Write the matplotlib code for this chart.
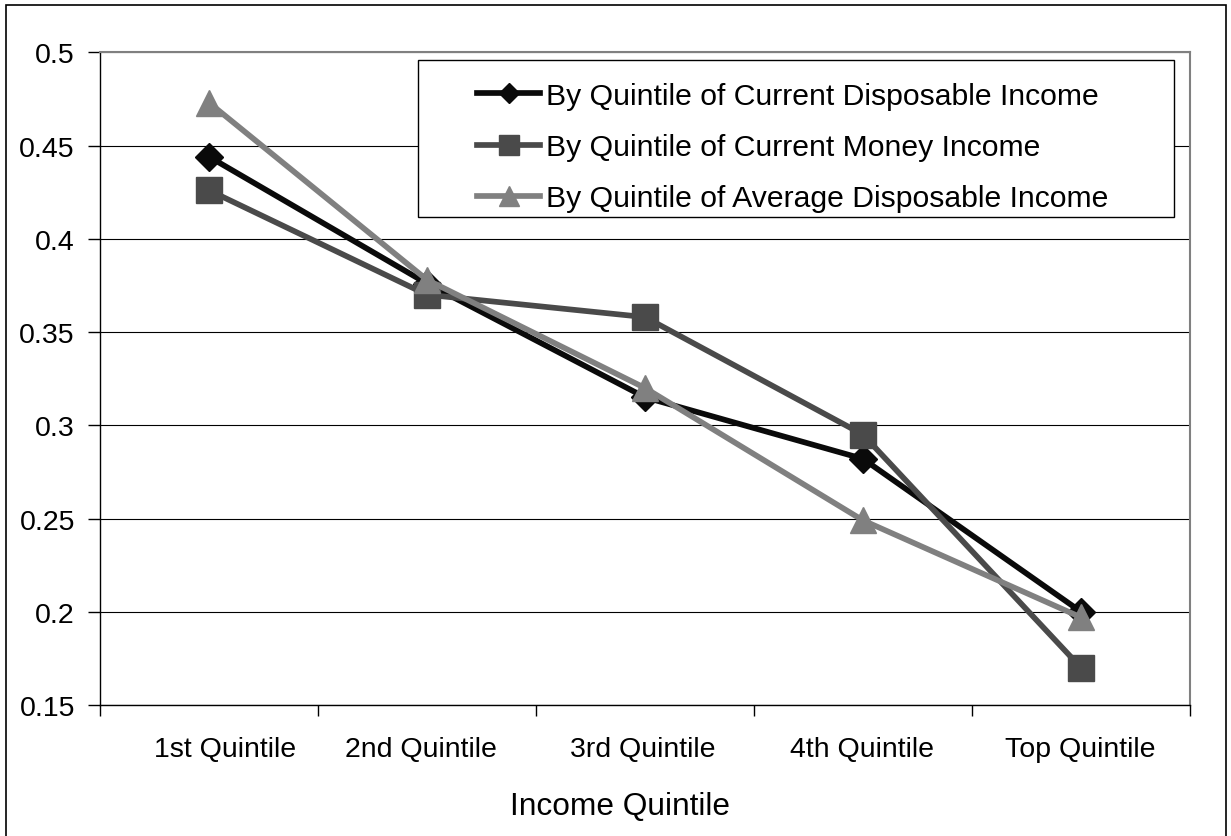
import numpy as np
import matplotlib.pyplot as plt
from matplotlib.patches import Rectangle
from matplotlib.transforms import ScaledTranslation

# values
quintiles = ['1st Quintile', '2nd Quintile', '3rd Quintile', '4th Quintile', 'Top Quintile']
current_disposable = [0.444, 0.376, 0.315, 0.282, 0.200]
current_money = [0.426, 0.370, 0.358, 0.295, 0.170]
average_disposable = [0.473, 0.378, 0.320, 0.249, 0.197]
series_labels = ['By Quintile of Current Disposable Income',
                 'By Quintile of Current Money Income',
                 'By Quintile of Average Disposable Income']
y_ticks = [0.15, 0.2, 0.25, 0.3, 0.35, 0.4, 0.45, 0.5]

plt.rcParams['font.family'] = ['Liberation Sans', 'DejaVu Sans']

W, H = 1231, 837
fig = plt.figure(figsize=(W / 100, H / 100), dpi=100)
ax = fig.add_axes([100 / W, 1 - 706 / H, 1090 / W, (706 - 53.3) / H])

x = np.arange(len(quintiles))
ax.plot(x, current_disposable, color='#0a0a0a', lw=4.1, marker='D', ms=14,
        mec='#0a0a0a', label=series_labels[0], zorder=3)
ax.plot(x, current_money, color='#4a4a4a', lw=4.1, marker='s', ms=18.5,
        mec='#4a4a4a', label=series_labels[1], zorder=3)
ax.plot(x, average_disposable, color='#808080', lw=4.1, marker='^', ms=19,
        mec='#808080', label=series_labels[2], zorder=3)

ax.set_xlim(-0.5, len(quintiles) - 0.5)
ax.set_ylim(0.15, 0.5)
ax.set_yticks(y_ticks)
ax.set_yticklabels([f'{v:g}' for v in y_ticks])
ax.yaxis.grid(True, color='black', lw=0.8)
ax.set_axisbelow(True)

ax.set_xticks(x)
ax.set_xticklabels(quintiles)
ax.set_xticks(np.arange(-0.5, len(quintiles)), minor=True)
ax.tick_params(axis='x', which='major', length=0, pad=22, labelsize=20.5)
ax.tick_params(axis='x', which='minor', length=8, width=1, direction='out')
ax.tick_params(axis='y', length=9, width=1, pad=9, labelsize=20.5)

# Excel nudges the category labels a little (pixels)
label_shift = [16, -6, -2, -1, -1]
for lab, dx in zip(ax.get_xticklabels(), label_shift):
    lab.set_transform(lab.get_transform() + ScaledTranslation(dx / 100, 0, fig.dpi_scale_trans))

# axis title is centred on the whole chart area, not the plot area
ax.set_xlabel('Income Quintile', fontsize=22.8)
ax.xaxis.set_label_coords((620 - 100) / 1090, -0.131)

for side in ['top', 'right']:
    ax.spines[side].set_color('#808080')
    ax.spines[side].set_linewidth(1.5)
for side in ['left', 'bottom']:
    ax.spines[side].set_color('black')
    ax.spines[side].set_linewidth(1)

# legend box drawn by hand to get Excel-like padding
box = Rectangle((418 / W, 1 - 218 / H), (1174 - 418) / W, (218 - 61) / H,
                transform=fig.transFigure, facecolor='white', edgecolor='black',
                lw=1, zorder=4, clip_on=False)
ax.add_patch(box)
leg = ax.legend(loc='upper left', bbox_to_anchor=(477 / W, 1 - 83 / H),
                bbox_transform=fig.transFigure, frameon=False, fontsize=21.7,
                borderpad=0, borderaxespad=0, handlelength=2.1,
                handletextpad=0.2, labelspacing=0.77, markerscale=0.75)
leg.set_zorder(5)

# outer chart border
fig.patches.append(Rectangle((6 / W, -0.02), (1226 - 6) / W, 1.02 - 6 / H,
                             transform=fig.transFigure, fill=False,
                             edgecolor='black', lw=1.2))

fig.savefig('out.png', dpi=100)
